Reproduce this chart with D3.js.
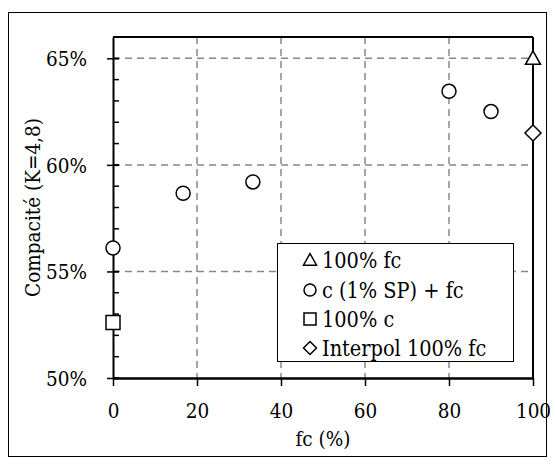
<!DOCTYPE html>
<html><head><meta charset="utf-8">
<script src="https://cdn.jsdelivr.net/npm/d3@7"></script>
<style>body{margin:0;background:#fff}svg{display:block}text{font-family:"DejaVu Serif Condensed","DejaVu Serif",serif;font-stretch:condensed;fill:#000}</style>
</head><body><div id="c"></div>
<script>
const xTicks = [0, 20, 40, 60, 80, 100];
const yTicks = [0.50, 0.55, 0.60, 0.65];
const triFc = [{x: 100, y: 0.650}];
const circMix = [{x: 0, y: 0.561}, {x: 16.7, y: 0.5867}, {x: 33.3, y: 0.592}, {x: 80, y: 0.6345}, {x: 90, y: 0.625}];
const sqC = [{x: 0, y: 0.526}];
const diaInterp = [{x: 100, y: 0.615}];
const legendLabels = ["100% fc", "c (1% SP) + fc", "100% c", "Interpol 100% fc"];

const W = 555, H = 464;
const FONT = "20.5px";
const LFONT = "21.5px";
const svg = d3.select("#c").append("svg").attr("width", W).attr("height", H);
svg.append("rect").attr("x", 8.5).attr("y", 12.5).attr("width", 538).attr("height", 444)
  .attr("fill", "#fff").attr("stroke", "#000").attr("stroke-width", 1);

const L = 113, R = 533, T = 37, B = 378;
const x = d3.scaleLinear().domain([0, 100]).range([L, R]);
const y = d3.scaleLinear().domain([0.50, 0.66]).range([B, T]);

// gridlines
const g = svg.append("g");
g.selectAll(".vg").data(xTicks.slice(1, -1)).join("line")
  .attr("x1", d => x(d)).attr("x2", d => x(d)).attr("y1", T).attr("y2", B)
  .attr("stroke", "#888").attr("stroke-width", 1.5).attr("stroke-dasharray", "7,5");
g.selectAll(".hg").data(yTicks.slice(1)).join("line")
  .attr("x1", L).attr("x2", R).attr("y1", d => y(d)).attr("y2", d => y(d))
  .attr("stroke", "#888").attr("stroke-width", 1.5).attr("stroke-dasharray", "7,5");

// frame top/right
svg.append("line").attr("x1", L).attr("x2", R).attr("y1", T).attr("y2", T).attr("stroke", "#000").attr("stroke-width", 2);
svg.append("line").attr("x1", R).attr("x2", R).attr("y1", T).attr("y2", B).attr("stroke", "#000").attr("stroke-width", 2);

// y minor ticks
const minor = d3.range(50, 66.01, 1).map(v => v / 100);
svg.selectAll(".ym").data(minor).join("line")
  .attr("x1", L).attr("x2", L + 6).attr("y1", d => y(d)).attr("y2", d => y(d))
  .attr("stroke", "#000").attr("stroke-width", 1.5);

// axes
const yAxis = d3.axisLeft(y).tickValues(yTicks).tickFormat(d3.format(".0%")).tickSizeInner(6).tickSizeOuter(0).tickPadding(20);
const ya = svg.append("g").attr("transform", `translate(${L},0)`).call(yAxis);
ya.select(".domain").attr("stroke-width", 2);
ya.selectAll(".tick line").attr("x2", -6).attr("x1", 6).attr("stroke-width", 1.5);
ya.selectAll("text").style("font-size", FONT).style("font-family", null).attr("dy", "0.35em");

const xAxis = d3.axisBottom(x).tickValues(xTicks).tickSizeInner(8).tickSizeOuter(0).tickPadding(17);
const xa = svg.append("g").attr("transform", `translate(0,${B})`).call(xAxis);
xa.select(".domain").attr("stroke-width", 2.5);
xa.selectAll(".tick line").attr("stroke-width", 1.5);
xa.selectAll("text").style("font-size", FONT).style("font-family", null);

svg.append("text").attr("x", x(50)).attr("y", 446).attr("text-anchor", "middle").style("font-size", FONT).text("fc (%)");
svg.append("text").attr("transform", `translate(40,${(T + B) / 2}) rotate(-90)`).attr("text-anchor", "middle")
  .style("font-size", FONT).text("Compacité (K=4,8)");

// markers
const shapes = {
  tri: r => `M0,${-r}L${r},${r * 0.8}L${-r},${r * 0.8}Z`,
  circ: r => d3.symbol().type(d3.symbolCircle).size(Math.PI * r * r)(),
  sq: r => `M${-r},${-r}H${r}V${r}H${-r}Z`,
  dia: r => `M0,${-r}L${r},0L0,${r}L${-r},0Z`
};
const sizes = {tri: 7.5, circ: 7, sq: 7, dia: 8};
function draw(data, s) {
  svg.append("g").selectAll("path").data(data).join("path")
    .attr("transform", d => `translate(${x(d.x)},${y(d.y)})`)
    .attr("d", shapes[s](sizes[s])).attr("fill", "#fff").attr("stroke", "#000").attr("stroke-width", 1.5);
}
draw(triFc, "tri"); draw(circMix, "circ"); draw(sqC, "sq"); draw(diaInterp, "dia");

// legend
const lg = svg.append("g");
lg.append("rect").attr("x", 277.5).attr("y", 243.5).attr("width", 236).attr("height", 118)
  .attr("fill", "#fff").attr("stroke", "#000").attr("stroke-width", 1);
const keys = ["tri", "circ", "sq", "dia"];
const lsz = {tri: 6.5, circ: 6, sq: 6, dia: 6.5};
const rowY = [260, 290, 319, 348];
legendLabels.forEach((t, i) => {
  lg.append("path").attr("transform", `translate(310,${rowY[i]})`).attr("d", shapes[keys[i]](lsz[keys[i]]))
    .attr("fill", "#fff").attr("stroke", "#000").attr("stroke-width", 1.5);
  lg.append("text").attr("x", 322).attr("y", rowY[i] + 7.5).style("font-size", LFONT).text(t);
});
</script></body></html>
